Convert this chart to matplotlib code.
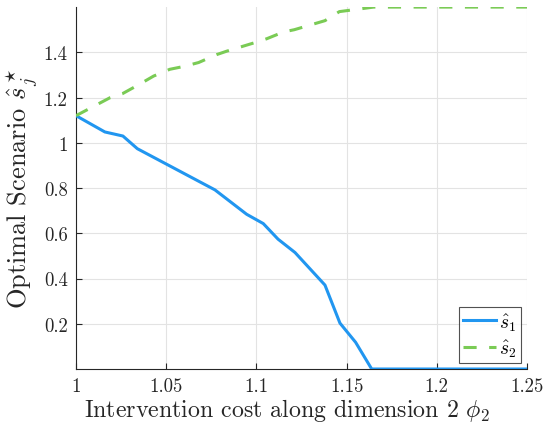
import numpy as np
import matplotlib
matplotlib.use("Agg")
from matplotlib import pyplot as plt
import matplotlib.ticker as ticker

plt.rcParams['font.family'] = 'serif'
plt.rcParams['font.serif'] = ['cmr10', 'DejaVu Serif']
plt.rcParams['mathtext.fontset'] = 'cm'
plt.rcParams['axes.formatter.use_mathtext'] = True

# -- data
phi_s1 = [1.0, 1.016, 1.026, 1.034, 1.077, 1.0946, 1.1038, 1.112, 1.1214,
          1.138, 1.1463, 1.155, 1.1639, 1.25]
s1 = [1.12, 1.048, 1.030, 0.974, 0.792, 0.684, 0.643, 0.574, 0.515,
      0.371, 0.203, 0.118, 0.0, 0.0]

phi_s2 = [1.0, 1.019, 1.0257, 1.035, 1.043, 1.052, 1.06, 1.068, 1.078,
          1.0835, 1.10, 1.1057, 1.115, 1.121, 1.138, 1.146, 1.165, 1.25]
s2 = [1.12, 1.20, 1.217, 1.258, 1.295, 1.325, 1.338, 1.355, 1.39,
      1.405, 1.445, 1.46, 1.49, 1.50, 1.54, 1.58, 1.60, 1.60]

xticks = [1, 1.05, 1.1, 1.15, 1.2, 1.25]
yticks = [0.2, 0.4, 0.6, 0.8, 1.0, 1.2, 1.4]

blue = '#2196F0'
green = '#7ACB55'
axis_col = '#262626'

fig = plt.figure(figsize=(5.48, 4.35), dpi=100, facecolor='white')
ax = fig.add_axes([0.1387, 0.1494, 0.823, 0.832])

ax.plot(phi_s1, s1, color=blue, lw=2.2, label=r'$\hat{s}_1$', zorder=3)
ax.plot(phi_s2, s2, color=green, lw=2.2, ls=(0, (4.3, 4.1)), label=r'$\hat{s}_2$', zorder=3)

ax.set_xlim(1, 1.25)
ax.set_ylim(0, 1.6)
ax.set_xticks(xticks)
ax.set_yticks(yticks)
ax.xaxis.set_major_formatter(ticker.FuncFormatter(lambda v, p: f'{v:g}'))
ax.yaxis.set_major_formatter(ticker.FuncFormatter(lambda v, p: f'{v:g}'))

ax.grid(True, color='#E3E3E3', lw=0.8, zorder=0)
ax.set_axisbelow(True)
ax.spines['top'].set_visible(False)
ax.spines['right'].set_visible(False)
for s in ['left', 'bottom']:
    ax.spines[s].set_color(axis_col)
    ax.spines[s].set_linewidth(0.8)
ax.tick_params(direction='in', length=4, width=0.8, color=axis_col,
               labelsize=13.5, labelcolor=axis_col, pad=6)

ax.set_xlabel(r'Intervention cost along dimension 2 $\phi_2$', fontsize=17.2, color=axis_col)
ax.xaxis.set_label_coords(0.468, -0.075)
ax.set_ylabel(r'Optimal Scenario $\hat{s}^\star_j$', fontsize=19, color=axis_col, labelpad=3)

leg = ax.legend(loc='lower right', fontsize=14, frameon=True, fancybox=False,
                handlelength=1.7, handletextpad=0.15, borderpad=0.2,
                labelspacing=0.25, borderaxespad=0.3)
leg.get_frame().set_edgecolor(axis_col)
leg.get_frame().set_linewidth(0.8)

fig.savefig('out.png', dpi=100, facecolor='white')
